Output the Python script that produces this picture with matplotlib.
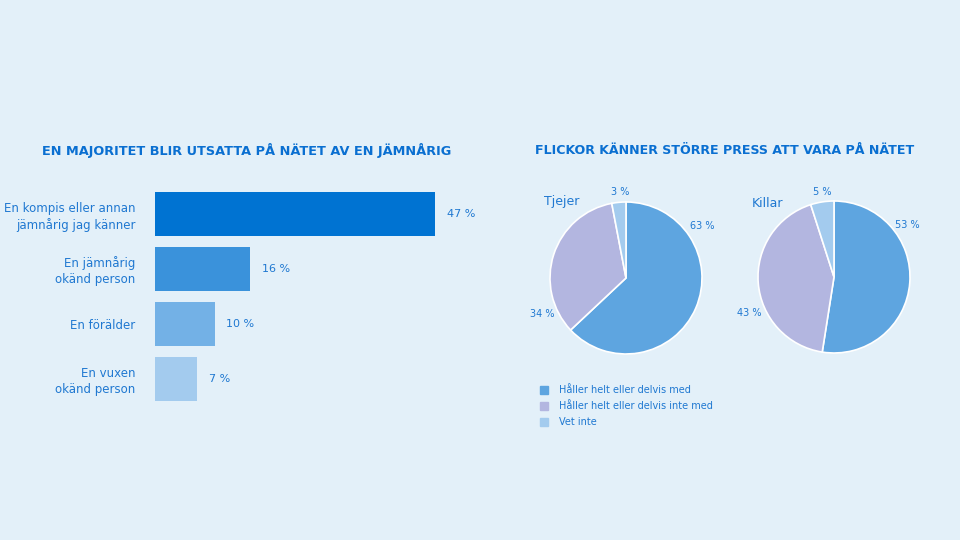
import matplotlib
matplotlib.use("Agg")
import matplotlib.pyplot as plt
from matplotlib.patches import Rectangle

# data
bar_labels = ["En kompis eller annan\njämnårig jag känner", "En jämnårig\nokänd person",
              "En förälder", "En vuxen\nokänd person"]
bar_values = [47, 16, 10, 7]
pie_groups = ["Tjejer", "Killar"]
pie_tjejer = [63, 34, 3]
pie_killar = [53, 43, 5]
pie_legend = ["Håller helt eller delvis med", "Håller helt eller delvis inte med", "Vet inte"]

BG = "#e3f0f9"
TXT = "#1f78d1"
TITLE = "#0a6fd1"
bar_colors = ["#0073d2", "#3a92db", "#73b1e6", "#a3cbee"]
pie_colors = ["#5ea5e0", "#b3b6e0", "#a3cbee"]

fig = plt.figure(figsize=(9.6, 5.4), dpi=100, facecolor=BG)
W, H = 960, 540

def px_axes(x0, y0, w, h):
    return fig.add_axes([x0 / W, 1 - (y0 + h) / H, w / W, h / H])

# titles: condensed look not available, so fit the width instead
renderer = fig.canvas.get_renderer()
for x0, x1, txt in [(42, 451, "EN MAJORITET BLIR UTSATTA PÅ NÄTET AV EN JÄMNÅRIG"),
                    (535, 916, "FLICKOR KÄNNER STÖRRE PRESS ATT VARA PÅ NÄTET")]:
    t = fig.text(x0 / W, 1 - 150 / H, txt, va="center", ha="left", family="DejaVu Sans",
                 weight="bold", size=16, color=TITLE)
    w = t.get_window_extent(renderer).width
    t.set_fontsize(16 * (x1 - x0) / w)

# bar chart
ax = px_axes(155, 186, 298, 220)
ax.set_facecolor("none")
ypos = list(range(len(bar_values)))
ax.barh(ypos, bar_values, height=0.8, color=bar_colors)
ax.set_xlim(0, 47 * 298 / 280)
ax.set_ylim(3.5, -0.5)
ax.set_yticks(ypos)
ax.set_yticklabels(bar_labels, fontsize=8.5, color=TXT, ha="right", linespacing=1.3)
ax.tick_params(axis="y", length=0, pad=14)
ax.set_xticks([])
for s in ax.spines.values():
    s.set_visible(False)
for y, v in zip(ypos, bar_values):
    ax.text(v + 2, y, f"{v} %", va="center", ha="left", fontsize=8, color=TXT)

# pies
label_pos = {
    "Tjejer": [(1.0, 0.68), (-1.1, -0.47), (-0.08, 1.13)],
    "Killar": [(0.97, 0.68), (-1.12, -0.48), (-0.16, 1.12)],
}
for name, vals, (cx, cy) in zip(pie_groups, [pie_tjejer, pie_killar], [(626, 278), (834, 277)]):
    r = 76
    pax = px_axes(cx - r, cy - r, 2 * r, 2 * r)
    pax.pie(vals, colors=pie_colors, startangle=90, counterclock=False, radius=1,
            wedgeprops=dict(edgecolor="white", linewidth=1.2))
    pax.set_xlim(-1, 1)
    pax.set_ylim(-1, 1)
    pax.set_aspect("equal")
    for (lx, ly), v in zip(label_pos[name], vals):
        pax.text(lx, ly, f"{v} %", ha="center", va="center", fontsize=7, color=TXT, clip_on=False)

fig.text(544 / W, 1 - 201 / H, "Tjejer", fontsize=9, color=TXT, va="center")
fig.text(752 / W, 1 - 203 / H, "Killar", fontsize=9, color=TXT, va="center")

# legend
for i, (lab, col) in enumerate(zip(pie_legend, pie_colors)):
    y = 390 + i * 16
    fig.patches.append(Rectangle((540 / W, 1 - (y + 4) / H), 8 / W, 8 / H,
                                 transform=fig.transFigure, color=col))
    fig.text(559 / W, 1 - y / H, lab, fontsize=7, color=TXT, va="center")

fig.savefig("out.png", dpi=100, facecolor=BG)
